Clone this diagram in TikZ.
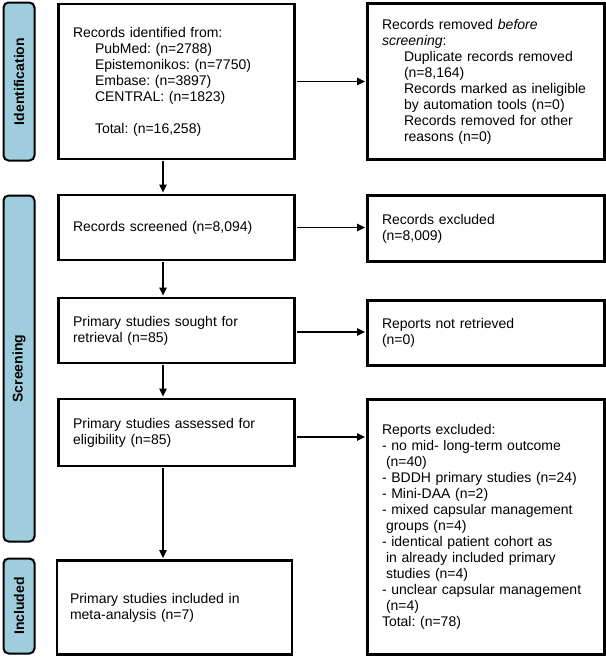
\documentclass[tikz,border=0pt]{standalone}
\usepackage{fontspec}
\setmainfont{Liberation Sans}
\usetikzlibrary{arrows.meta}
\definecolor{barblue}{RGB}{158,206,222}
\frenchspacing
\begin{document}
\begin{tikzpicture}[x=1pt,y=-1pt,
  box/.style={draw=black, line width=2.5pt, rectangle, align=left,
    inner xsep=14.5pt, inner ysep=0pt, font=\fontsize{14}{16}\selectfont},
  phasebar/.style={draw=black, line width=2pt, fill=barblue, rounded corners=5pt,
    minimum width=31pt, inner sep=0pt},
  phaselabel/.style={rotate=90, font=\fontsize{14}{16}\selectfont\bfseries},
  arr/.style={line width=1.1pt, -{Triangle[length=8pt,width=7.5pt]}, shorten >=1.2pt, shorten <=1.2pt}
]
\useasboundingbox (0,0) rectangle (606,657);

% phase bars
\node[phasebar, minimum height=158pt] (pid) at (19,81.5) {};
\node[phaselabel] (lid) at (pid.center) {Identification};
\node[phasebar, minimum height=346pt] (psc) at (19,368.5) {};
\node[phaselabel] (lsc) at (psc.center) {Screening};
\node[phasebar, minimum height=95pt] (pin) at (19,606) {};
\node[phaselabel] (lin) at (pin.center) {Included};

% left column
\node[box, minimum height=155pt, text width=207pt] (ident) at (176.5,81.5) {%
Records identified from:\\
\hspace*{22pt}PubMed: (n=2788)\\
\hspace*{22pt}Epistemonikos: (n=7750)\\
\hspace*{22pt}Embase: (n=3897)\\
\hspace*{22pt}CENTRAL: (n=1823)\\[16pt]
\hspace*{22pt}Total: (n=16,258)};

\node[box, minimum height=65pt, text width=207pt] (screened) at (176.5,227.5) {Records screened (n=8,094)};

\node[box, minimum height=65pt, text width=207pt] (sought) at (176.5,330.5) {Primary studies sought for\\retrieval (n=85)};

\node[box, minimum height=67pt, text width=207pt] (assessed) at (176.5,432.5) {Primary studies assessed for\\eligibility (n=85)};

\node[box, minimum height=94pt, text width=209pt, inner xsep=13pt] (included) at (174.5,607.5) {Primary studies included in\\meta-analysis (n=7)};

% right column
\node[box, minimum height=156pt, text width=208pt] (removed) at (486,81.5) {%
Records removed \textit{before}\\
\textit{screening}:\\
\hspace*{22pt}Duplicate records removed\\
\hspace*{22pt}(n=8,164)\\
\hspace*{22pt}Records marked as ineligible\\
\hspace*{22pt}by automation tools (n=0)\\
\hspace*{22pt}Records removed for other\\
\hspace*{22pt}reasons (n=0)};

\node[box, minimum height=66pt, text width=208pt] (excluded) at (486,228.5) {Records excluded\\(n=8,009)};

\node[box, minimum height=65pt, text width=208pt] (notret) at (486,333) {Reports not retrieved\\(n=0)};

\node[box, minimum height=255pt, text width=208pt] (repexcl) at (486,527) {%
Reports excluded:\\
- no mid- long-term outcome\\
\hspace*{4pt}(n=40)\\
- BDDH primary studies (n=24)\\
- Mini-DAA (n=2)\\
- mixed capsular management\\
\hspace*{4pt}groups (n=4)\\
- identical patient cohort as\\
\hspace*{4pt}in already included primary\\
\hspace*{4pt}studies (n=4)\\
- unclear capsular management\\
\hspace*{4pt}(n=4)\\
Total: (n=78)};

% connectors
\coordinate (ax) at (163,0);
\coordinate (soughtout) at ([yshift=-1.5pt]sought.east);
\coordinate (assessout) at ([yshift=-4.5pt]assessed.east);
\draw[arr] (ident.south -| ax) -- (screened.north -| ax);
\draw[arr] (screened.south -| ax) -- (sought.north -| ax);
\draw[arr] (sought.south -| ax) -- (assessed.north -| ax);
\draw[arr] (assessed.south -| ax) -- (included.north -| ax);

\draw[arr] (ident.east) -- (removed.west |- ident.east);
\draw[arr] (screened.east) -- (excluded.west |- screened.east);
\draw[arr] (soughtout) -- (notret.west |- soughtout);
\draw[arr] (assessout) -- (repexcl.west |- assessout);
\end{tikzpicture}
\end{document}
